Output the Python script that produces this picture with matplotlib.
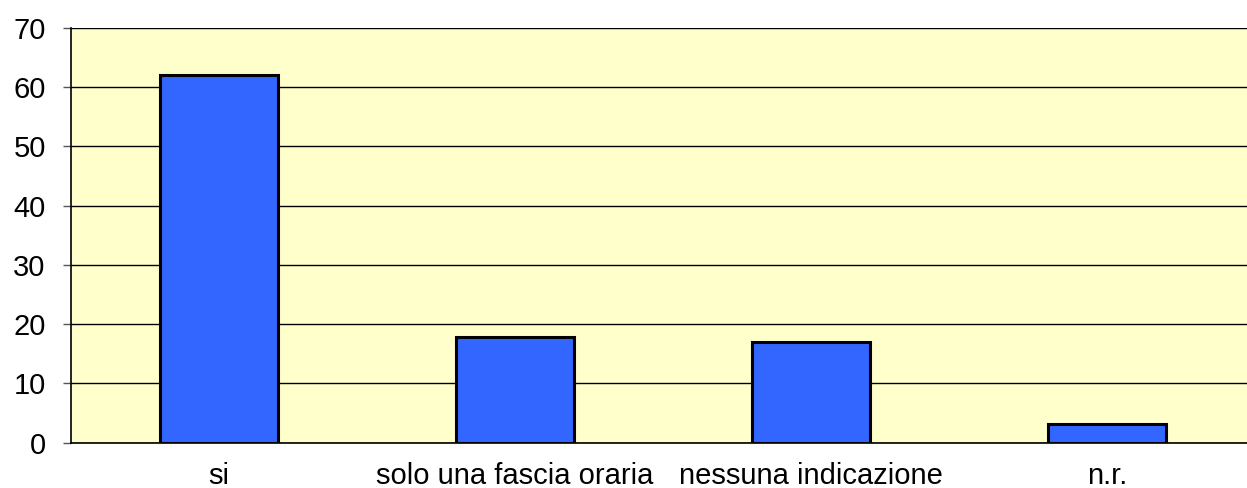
import matplotlib
matplotlib.use("Agg")
import matplotlib.pyplot as plt

categories = ["si", "solo una fascia oraria", "nessuna indicazione", "n.r."]
values = [62, 17.8, 17.0, 3.1]
yticks = [0, 10, 20, 30, 40, 50, 60, 70]

plt.rcParams['font.family'] = ['Liberation Sans', 'DejaVu Sans']

W, H = 1247, 488
left, right, top, bottom = 70.7, 1255, 28, 442.7
fig = plt.figure(figsize=(W/100, H/100), dpi=100)
ax = fig.add_axes([left/W, 1-bottom/H, (right-left)/W, (bottom-top)/H])
ax.set_facecolor('#FFFFCC')
x = list(range(len(categories)))
ax.bar(x, values, width=0.4, color='#3366FF', edgecolor='black', linewidth=2.2, zorder=3)
ax.set_xlim(-0.5, len(categories)-0.5)
ax.set_ylim(0, 70)
ax.set_yticks(yticks)
ax.set_xticks(x)
ax.set_xticklabels(categories)
ax.yaxis.grid(True, color='black', linewidth=1, zorder=0)
ax.set_axisbelow(True)
for s in ['top', 'right']:
    ax.spines[s].set_visible(False)
ax.spines['left'].set_linewidth(1.2)
ax.spines['bottom'].set_linewidth(1.2)
ax.tick_params(axis='y', length=6, width=1, labelsize=21, pad=12, color='#555555')
ax.tick_params(axis='x', length=0, labelsize=21, pad=14)
fig.savefig("out.png", dpi=100)
